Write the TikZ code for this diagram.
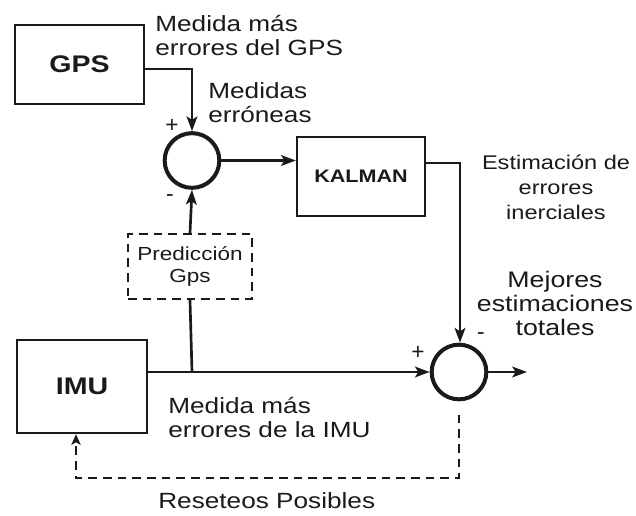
\documentclass[tikz,border=0pt]{standalone}
\usepackage{fontspec}
\usepackage{graphicx}
\setmainfont{Liberation Sans}
\usetikzlibrary{arrows.meta}
\definecolor{ink}{HTML}{1A1A1A}
\newcommand\wtxt[1]{\scalebox{1.19}[1]{#1}}
\begin{document}
\begin{tikzpicture}[x=0.75pt,y=-0.75pt,
  line width=2pt, draw=ink, text=ink,
  block/.style={draw, line width=1.8pt, inner sep=0pt, font=\fontsize{18}{20}\selectfont\bfseries},
  dblock/.style={draw, line width=1.8pt, inner sep=0pt, dash pattern=on 6.5pt off 4.5pt, align=center, font=\fontsize{14.2}{16.5}\selectfont},
  sumnode/.style={draw, circle, line width=3pt, minimum size=41pt, inner sep=0pt},
  lab/.style={inner sep=0pt, font=\fontsize{16.5}{18}\selectfont},
  sign/.style={inner sep=0pt, font=\fontsize{17}{18}\selectfont},
  arr/.style={-{Stealth[length=11pt,width=8pt,inset=2.5pt]}},
  darr/.style={dash pattern=on 6.5pt off 4.5pt, -{Stealth[length=8pt,width=7pt,inset=2pt]}}
]
\useasboundingbox (0,0) rectangle (636,515);

% blocks
\node[block, minimum width=96.75pt, minimum height=59.25pt] (gps) at (79.5,64.5) {\wtxt{GPS}};
\node[block, minimum width=96pt, minimum height=59.25pt, font=\fontsize{13.6}{15}\selectfont\bfseries] (kalman) at (361,176.5) {\wtxt{KALMAN}};
\node[block, minimum width=97.5pt, minimum height=69.75pt] (imu) at (82,386.5) {\wtxt{IMU}};
\node[dblock, minimum width=93pt, minimum height=48.75pt] (pred) at (190,266.5) {\wtxt{Predicción}\\\wtxt{Gps}};
\node[sumnode] (sum1) at (192,160.5) {};
\node[sumnode] (sum2) at (459,372) {};

% signs
\node[sign] (p1) at (172,126) {+};
\node[sign] (m1) at (170,198) {-};
\node[sign] (p2) at (418,353) {+};
\node[sign] (m2) at (481,336) {-};

% labels
\node[lab, anchor=north west, align=left] (l1) at (154,14) {\wtxt{Medida más}\\\wtxt{errores del GPS}};
\node[lab, anchor=north west, align=left] (l2) at (207,81) {\wtxt{Medidas}\\\wtxt{erróneas}};
\node[lab, anchor=north, align=center, font=\fontsize{14.85}{18.5}\selectfont] (l3) at (556,154) {\wtxt{Estimación de}\\\wtxt{errores}\\\wtxt{inerciales}};
\node[lab, anchor=north, align=center, font=\fontsize{16.85}{18}\selectfont] (l4) at (555,270) {\wtxt{Mejores}\\\wtxt{estimaciones}\\\wtxt{totales}};
\node[lab, anchor=north west, align=left] (l5) at (167,396) {\wtxt{Medida más}\\\wtxt{errores de la IMU}};
\node[lab, anchor=north west] (l6) at (157,491) {\wtxt{Reseteos Posibles}};

% connectors
\draw[arr] ([yshift=-3.4pt]gps.east) -| (sum1.north);
\draw[arr] (sum1.east) -- (kalman.west |- sum1.east);
\draw[arr] ([yshift=10.1pt]kalman.east) -| ([xshift=0.75pt]sum2.north);
\draw[arr] (imu.east |- sum2.west) -- (sum2.west);
\coordinate (br) at (192,372);
\draw (br) -- (pred.south);
\draw[arr] (pred.north) -- (sum1.south);
\coordinate (out) at (527,372);
\draw[arr] (sum2.east) -- (out);
\coordinate (rs) at (76,478);
\draw[darr] ([yshift=-10pt]sum2.south) |- (rs) -- (rs |- imu.south);
\end{tikzpicture}
\end{document}
